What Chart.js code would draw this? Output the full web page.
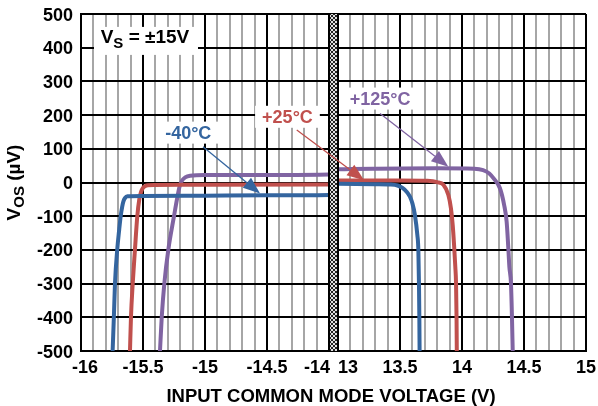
<!DOCTYPE html>
<html><head><meta charset="utf-8">
<script src="https://cdn.jsdelivr.net/npm/chart.js@4"></script>
<style>html,body{margin:0;padding:0;background:#fff}#wrap{width:598px;height:406px;position:relative}</style>
</head><body><div id="wrap"><canvas id="c" width="598" height="406"></canvas></div>
<script>
// ---- data ----
const xTickValues = [-16, -15.5, -15, -14.5, -14, 13, 13.5, 14, 14.5, 15];
const xTickLabels = ['-16', '-15.5', '-15', '-14.5', '-14', '13', '13.5', '14', '14.5', '15'];
const yTickValues = [-500, -400, -300, -200, -100, 0, 100, 200, 300, 400, 500];
const seriesNames = ['-40°C', '+25°C', '+125°C'];
const seriesColors = ['#34659f', '#c0504d', '#8064a2'];

const voltsM40 = [-15.745, -15.735, -15.726, -15.708, -15.692, -15.68, -15.668, -15.658, -15.645, -15.625, -15.5, -15, -14.5, -14,
  13, 13.3, 13.42, 13.48, 13.52, 13.555, 13.58, 13.6, 13.62, 13.64, 13.648, 13.653, 13.656, 13.658];
const vosM40 = [-500, -400, -300, -200, -140, -100, -72, -56, -46, -41, -40, -39, -38, -37,
  -4, -5, -6, -9, -16, -28, -42, -62, -96, -156, -200, -300, -400, -500];

const volts25 = [-15.605, -15.597, -15.583, -15.565, -15.546, -15.53, -15.515, -15.5, -15.485, -15.46, -15.2, -14,
  13, 13.5, 13.72, 13.8, 13.85, 13.89, 13.911, 13.925, 13.936, 13.946, 13.952, 13.956, 13.958];
const vos25 = [-500, -400, -300, -200, -100, -50, -27, -16, -11, -8, -7, -6,
  6, 6, 5, 1, -7, -37, -77, -126, -185, -250, -300, -400, -500];

const volts125 = [-15.363, -15.349, -15.328, -15.296, -15.25, -15.225, -15.205, -15.185, -15.16, -15.12, -15, -14,
  13, 13.3, 13.8, 14.1, 14.17, 14.22, 14.26, 14.306, 14.34, 14.36, 14.372, 14.382, 14.395, 14.403, 14.409];
const vos125 = [-500, -400, -300, -200, -100, -48, -12, 6, 15, 20, 22, 24,
  39, 41, 42, 41, 37, 27, 10, -17, -67, -116, -185, -250, -300, -400, -500];

// annotation anchors in data units [volts, µV]
const labelAt = [[-15.135, 148], [-14.335, 195], [13.339, 249]];
const arrowFrom = [[-15.016, 106], [-14.26, 156], [13.339, 205]];
const arrowTo = [[-14.556, -33], [13.21, 7], [13.89, 47]];
const supplyLabelAt = [-15.484, 435];

// ---- broken x axis: -16..-14 | break | 13..15 ----
const GAP = 9 / 124;
function vx(V) { return V < 0 ? V + 16 : V - 13 + 2 + GAP; }
function pts(xs, ys) { return xs.map((x, i) => ({ x: vx(x), y: ys[i] })); }

const FONT = "'Liberation Sans', Arial, sans-serif";

const gridTicks = [];
for (let i = 0; i <= 20; i++) gridTicks.push(-16 + i * 0.1);
for (let i = 0; i <= 20; i++) gridTicks.push(13 + i * 0.1);

function isMajor(V) { const d = V * 2; return Math.abs(d - Math.round(d)) < 1e-6; }

const decor = {
  id: 'decor',
  beforeDatasetsDraw(chart) {
    const { ctx, scales: { x, y } } = chart;
    ctx.save();
    ctx.fillStyle = '#fff';
    const sx = x.getPixelForValue(vx(supplyLabelAt[0])), sy = y.getPixelForValue(supplyLabelAt[1]);
    ctx.fillRect(sx - 51, sy - 9, 104, 28);
    ctx.font = 'bold 18px ' + FONT;
    labelAt.forEach((p, i) => {
      const px = x.getPixelForValue(vx(p[0])), py = y.getPixelForValue(p[1]);
      const w = ctx.measureText(seriesNames[i]).width;
      ctx.fillRect(px - w / 2 - 7, py - 11, w + 14, 22);
    });
    ctx.restore();
  },
  afterDatasetsDraw(chart) {
    const { ctx, scales: { x, y }, chartArea: ca } = chart;
    ctx.save();
    // break band
    const bx1 = x.getPixelForValue(vx(-14)), bx2 = x.getPixelForValue(vx(13));
    const pc = document.createElement('canvas'); pc.width = 4; pc.height = 4;
    const pctx = pc.getContext('2d');
    pctx.fillStyle = '#e0e0e0'; pctx.fillRect(0, 0, 4, 4);
    pctx.fillStyle = '#222';
    for (let i = 0; i < 4; i++) { pctx.fillRect(i, i, 1, 1); pctx.fillRect(i, 3 - i, 1, 1); }
    ctx.fillStyle = ctx.createPattern(pc, 'repeat');
    ctx.fillRect(bx1, ca.top, bx2 - bx1, ca.bottom - ca.top);
    ctx.strokeStyle = '#000'; ctx.lineWidth = 2;
    ctx.beginPath();
    ctx.moveTo(bx1, ca.top); ctx.lineTo(bx1, ca.bottom);
    ctx.moveTo(bx2, ca.top); ctx.lineTo(bx2, ca.bottom);
    ctx.stroke();

    // arrows
    arrowFrom.forEach((f, i) => {
      const x1 = x.getPixelForValue(vx(f[0])), y1 = y.getPixelForValue(f[1]);
      const x2 = x.getPixelForValue(vx(arrowTo[i][0])), y2 = y.getPixelForValue(arrowTo[i][1]);
      const ang = Math.atan2(y2 - y1, x2 - x1), L = 17, H = 6.5;
      const bx = x2 - L * Math.cos(ang), by = y2 - L * Math.sin(ang);
      ctx.strokeStyle = seriesColors[i]; ctx.fillStyle = seriesColors[i]; ctx.lineWidth = 1.3;
      ctx.beginPath(); ctx.moveTo(x1, y1); ctx.lineTo(bx, by); ctx.stroke();
      ctx.beginPath(); ctx.moveTo(x2, y2);
      ctx.lineTo(bx + H * Math.sin(ang), by - H * Math.cos(ang));
      ctx.lineTo(bx - H * Math.sin(ang), by + H * Math.cos(ang));
      ctx.closePath(); ctx.fill();
    });

    // series labels
    ctx.font = 'bold 18px ' + FONT; ctx.textAlign = 'center'; ctx.textBaseline = 'alphabetic';
    labelAt.forEach((p, i) => {
      const px = x.getPixelForValue(vx(p[0])), py = y.getPixelForValue(p[1]);
      ctx.fillStyle = seriesColors[i];
      ctx.fillText(seriesNames[i], px, py + 6.5);
    });

    // supply label  V_S = ±15V
    ctx.fillStyle = '#000'; ctx.textAlign = 'left';
    const sx = x.getPixelForValue(vx(supplyLabelAt[0])), sy = y.getPixelForValue(supplyLabelAt[1]);
    const mainF = 'bold 19px ' + FONT, subF = 'bold 15px ' + FONT;
    ctx.font = mainF; const wV = ctx.measureText('V').width;
    ctx.font = subF; const wS = ctx.measureText('S').width;
    ctx.font = mainF; const wR = ctx.measureText(' = ±15V').width;
    let tx = sx - (wV + wS + wR) / 2; const base = sy + 7;
    ctx.fillText('V', tx, base); tx += wV;
    ctx.font = subF; ctx.fillText('S', tx, base + 5); tx += wS;
    ctx.font = mainF; ctx.fillText(' = ±15V', tx, base);

    // x tick labels
    ctx.font = 'bold 18px ' + FONT; ctx.textAlign = 'center'; ctx.fillStyle = '#000';
    const xShift = { '-16': 4, '-14': -12, '13': 10 };
    xTickValues.forEach((V, i) => {
      const px = x.getPixelForValue(vx(V)) + (xShift[xTickLabels[i]] || 0);
      ctx.fillText(xTickLabels[i], px, ca.bottom + 22);
    });
    // y tick labels
    ctx.textAlign = 'right';
    yTickValues.forEach(v => {
      const py = y.getPixelForValue(v);
      ctx.fillText(String(v), ca.left - 8, py + 6.5);
    });
    // x title
    ctx.font = 'bold 18.5px ' + FONT; ctx.textAlign = 'center';
    ctx.fillText('INPUT COMMON MODE VOLTAGE (V)', 331, ca.bottom + 51);
    // y title  V_OS (µV)
    ctx.save();
    ctx.translate(20, (ca.top + ca.bottom) / 2);
    ctx.rotate(-Math.PI / 2);
    const tF = 'bold 19px ' + FONT, tS = 'bold 15px ' + FONT;
    ctx.font = tF; const a = ctx.measureText('V').width;
    ctx.font = tS; const b = ctx.measureText('OS').width;
    ctx.font = tF; const c = ctx.measureText(' (µV)').width;
    let ty = -(a + b + c) / 2;
    ctx.textAlign = 'left';
    ctx.fillText('V', ty, 0); ty += a;
    ctx.font = tS; ctx.fillText('OS', ty, 4); ty += b;
    ctx.font = tF; ctx.fillText(' (µV)', ty, 0);
    ctx.restore();
    ctx.restore();
  }
};

const datasets = [
  [voltsM40, vosM40], [volts25, vos25], [volts125, vos125]
].map((s, i) => ({
  label: seriesNames[i],
  data: pts(s[0], s[1]),
  borderColor: seriesColors[i],
  borderWidth: 4,
  pointRadius: 0,
  fill: false,
  cubicInterpolationMode: 'monotone',
  borderCapStyle: 'butt'
}));

new Chart(document.getElementById('c'), {
  type: 'line',
  data: { datasets },
  options: {
    responsive: false,
    animation: false,
    layout: { padding: { left: 81, top: 14, right: 12, bottom: 55 } },
    plugins: { legend: { display: false }, tooltip: { enabled: false } },
    scales: {
      x: {
        type: 'linear',
        min: 0, max: 4 + GAP,
        afterBuildTicks(scale) { scale.ticks = gridTicks.map(V => ({ value: vx(V), real: V })); },
        ticks: { display: false },
        grid: {
          drawTicks: false,
          lineWidth: 2,
          color: c => (c.tick && isMajor(c.tick.real)) ? '#000' : '#a6a6a6'
        },
        border: { display: true, color: '#000', width: 2 }
      },
      y: {
        type: 'linear',
        min: -500, max: 500,
        ticks: { display: false, stepSize: 100 },
        grid: { drawTicks: false, lineWidth: 2, color: '#000' },
        border: { display: true, color: '#000', width: 2 }
      }
    }
  },
  plugins: [decor]
});
</script></body></html>
